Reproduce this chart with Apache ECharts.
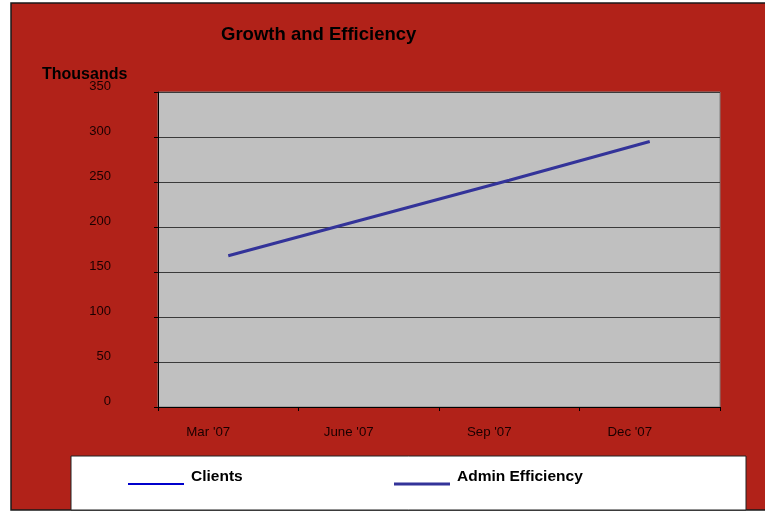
<!DOCTYPE html>
<html>
<head>
<meta charset="utf-8">
<script src="https://cdn.jsdelivr.net/npm/echarts@6/dist/echarts.min.js"></script>
<style>html,body{margin:0;padding:0;background:#fff}#c{width:765px;height:519px}</style>
</head>
<body>
<div id="c"></div>
<script>
var categories = ["Mar '07", "June '07", "Sep '07", "Dec '07"];
var clients = [null, null, null, null];
var adminEfficiency = [168, 210, 252, 295];
var yTicks = { min: 0, max: 350, interval: 50 };

var FONT = 'Liberation Sans, Arial, sans-serif';
var chart = echarts.init(document.getElementById('c'));
chart.setOption({
  backgroundColor: '#ffffff',
  animation: false,
  title: [
    { text: 'Growth and Efficiency', left: 221, top: 25, padding: 0,
      textStyle: { fontFamily: FONT, fontSize: 18.5, fontWeight: 'bold', color: '#000' } },
    { text: 'Thousands', left: 42, top: 67, padding: 0,
      textStyle: { fontFamily: FONT, fontSize: 16, fontWeight: 'bold', color: '#000' } }
  ],
  graphic: [
    { type: 'rect', z: -10, shape: { x: 11, y: 3, width: 760, height: 507 },
      style: { fill: '#B12219', stroke: '#1a1a1a', lineWidth: 1.5 } },
    { type: 'rect', z: 1, shape: { x: 71, y: 456, width: 675, height: 54 },
      style: { fill: '#ffffff', stroke: '#222', lineWidth: 1 } }
  ],
  legend: [
    { data: ['Clients'], left: 128, top: 468, itemWidth: 56, itemHeight: 17,
      icon: 'path://M0,0 M0,15 L56,15 L56,17 L0,17 Z',
      itemGap: 0, padding: 0,
      textStyle: { fontFamily: FONT, fontSize: 15.5, fontWeight: 'bold', color: '#000', padding: [0, 0, 0, 2] } },
    { data: ['Admin Efficiency'], left: 394, top: 468, itemWidth: 56, itemHeight: 17.5,
      icon: 'path://M0,0 M0,14.5 L56,14.5 L56,17.5 L0,17.5 Z',
      itemGap: 0, padding: 0,
      textStyle: { fontFamily: FONT, fontSize: 15.5, fontWeight: 'bold', color: '#000', padding: [0, 0, 0, 2] } }
  ],
  grid: { left: 158, right: 45, top: 92, bottom: 112, show: true,
    backgroundColor: '#C0C0C0', borderColor: '#808080', borderWidth: 1 },
  xAxis: {
    type: 'category', data: categories, boundaryGap: true,
    axisLine: { lineStyle: { color: '#000', width: 1 } },
    axisTick: { show: true, length: 4, lineStyle: { color: '#000' } },
    axisLabel: { fontFamily: FONT, fontSize: 13.3, color: '#1a0000', margin: 19, padding: [0, 40, 0, 0] },
    splitLine: { show: false }
  },
  yAxis: {
    type: 'value', min: yTicks.min, max: yTicks.max, interval: yTicks.interval,
    axisLine: { show: true, lineStyle: { color: '#000', width: 1 } },
    axisTick: { show: true, length: 4, lineStyle: { color: '#000' } },
    axisLabel: { fontFamily: FONT, fontSize: 13, lineHeight: 11, color: '#1a0000', margin: 47,
      verticalAlign: 'bottom' },
    splitLine: { show: true, lineStyle: { color: '#3a3a3a', width: 1 } }
  },
  series: [
    { name: 'Clients', type: 'line', data: clients, showSymbol: false,
      itemStyle: { color: '#0000CC' }, lineStyle: { color: '#0000CC', width: 1 } },
    { name: 'Admin Efficiency', type: 'line', data: adminEfficiency, showSymbol: false,
      itemStyle: { color: '#333399' }, lineStyle: { color: '#333399', width: 3 } }
  ]
});
</script>
</body>
</html>
